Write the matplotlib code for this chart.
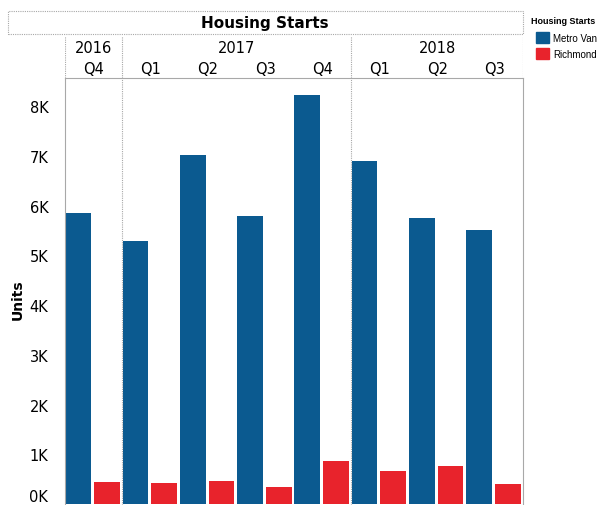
import matplotlib.pyplot as plt
from matplotlib.patches import Rectangle, Patch

# data (units)
years = ["2016", "2017", "2018"]
quarters = ["Q4", "Q1", "Q2", "Q3", "Q4", "Q1", "Q2", "Q3"]
year_span = [1, 4, 3]  # number of quarters per year panel
metro_van = [5850, 5300, 7020, 5790, 8230, 6900, 5750, 5520]
richmond = [440, 420, 460, 340, 870, 670, 770, 400]
yticks = [0, 1000, 2000, 3000, 4000, 5000, 6000, 7000, 8000]
ytick_labels = ["0K", "1K", "2K", "3K", "4K", "5K", "6K", "7K", "8K"]

blue = "#0b5a90"
red = "#e8232c"
grid_c = "#a8a8a8"

W, H = 609, 506
fig = plt.figure(figsize=(W / 100, H / 100), dpi=100)


def fx(px):
    return px / W


def fy(py):
    return 1 - py / H


x0, x1 = 65, 523
ax = fig.add_axes([fx(x0), fy(506), fx(x1 - x0), fy(79) - fy(506)])
n = len(quarters)
xs = range(n)
ax.bar([i + 0.005 for i in xs], metro_van, width=0.45, align="edge", color=blue, label="Metro Van")
ax.bar([i + 0.51 for i in xs], richmond, width=0.45, align="edge", color=red, label="Richmond")
ax.set_xlim(0, n)
ax.set_ylim(-20, 8570)
ax.set_xticks([])
ax.set_yticks(yticks)
ax.set_yticklabels(ytick_labels, fontsize=10.5)
ax.tick_params(axis="y", length=0, pad=12)
ax.get_yticklabels()[0].set_va("bottom")
for s in ["left", "right", "top"]:
    ax.spines[s].set_linestyle((0, (1, 1)))
    ax.spines[s].set_color(grid_c)
    ax.spines[s].set_linewidth(0.8)
ax.spines["bottom"].set_visible(False)

# year dividers
bounds = [0]
for s in year_span:
    bounds.append(bounds[-1] + s)
for b in bounds[1:-1]:
    ax.axvline(b, color=grid_c, linestyle=(0, (1, 1)), linewidth=0.8)

# header with years and quarters
hx = fig.add_axes([fx(x0), fy(79), fx(x1 - x0), fy(37) - fy(79)])
hx.set_xlim(0, n)
hx.set_ylim(0, 1)
hx.axis("off")
for b in bounds:
    hx.axvline(b, color=grid_c, linestyle=(0, (1, 1)), linewidth=0.8)
for k, yr in enumerate(years):
    hx.text((bounds[k] + bounds[k + 1]) / 2, 0.72, yr, ha="center", va="center", fontsize=10.5)
for i, q in enumerate(quarters):
    hx.text(i + 0.5, 0.22, q, ha="center", va="center", fontsize=10.5)

# title box
fig.add_artist(Rectangle((fx(8), fy(35)), fx(x1 - 8), fy(12) - fy(35), transform=fig.transFigure,
                         fill=False, edgecolor=grid_c, linestyle=(0, (1, 1)), linewidth=0.8))
fig.text(fx(265), fy(24), "Housing Starts", ha="center", va="center", fontsize=11, fontweight="bold")

fig.text(fx(18), fy(300), "Units", rotation=90, ha="center", va="center", fontsize=10, fontweight="bold")

# legend
fig.text(fx(531), fy(22), "Housing Starts", ha="left", va="center", fontsize=6.5,
         fontweight="bold", family="Liberation Sans")
handles = [Patch(color=blue), Patch(color=red)]
fig.legend(handles, ["Metro Van", "Richmond"], loc="upper left", bbox_to_anchor=(fx(532), fy(29)),
           frameon=False, prop={"family": "Liberation Sans", "size": 7},
           handlelength=1.3, handleheight=1.4, handletextpad=0.5, labelspacing=0.5, borderaxespad=0)

fig.savefig("out.png", dpi=100)
